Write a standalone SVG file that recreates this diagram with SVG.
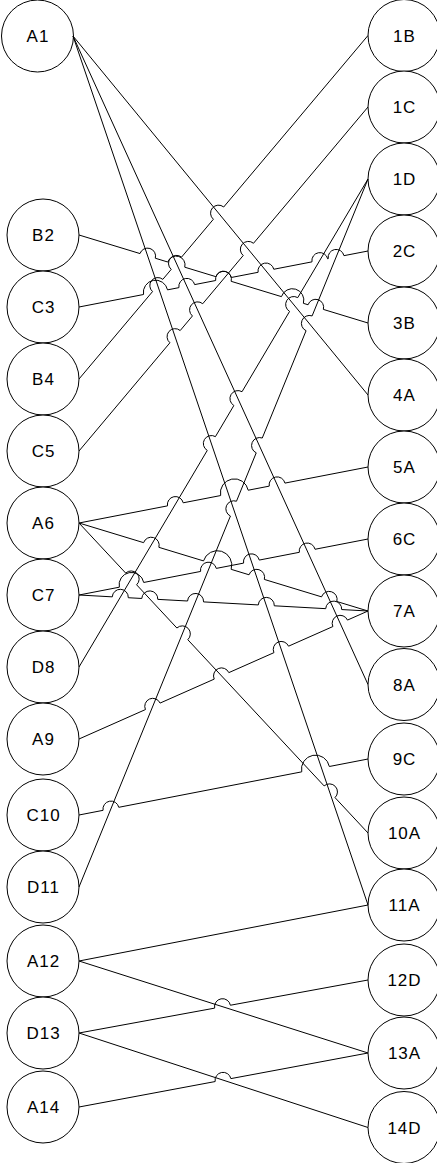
<svg xmlns="http://www.w3.org/2000/svg" width="437" height="1163" viewBox="0 0 437 1163">
<style>
.n circle{fill:#fff;stroke:#000;stroke-width:1}
.n text{font-family:"Liberation Sans",Arial,sans-serif;font-size:17px;fill:#000;text-anchor:middle;letter-spacing:1px}
.e path{fill:none;stroke:#000;stroke-width:1}
</style>
<rect width="437" height="1163" fill="#fff"/>
<g class="n">
<g id="A1"><circle cx="37.5" cy="36" r="36"/><text x="38" y="42">A1</text></g>
<g id="B2"><circle cx="43" cy="235" r="36"/><text x="43.5" y="241">B2</text></g>
<g id="C3"><circle cx="43" cy="307" r="36"/><text x="43.5" y="313">C3</text></g>
<g id="B4"><circle cx="43" cy="379" r="36"/><text x="43.5" y="385">B4</text></g>
<g id="C5"><circle cx="43" cy="451" r="36"/><text x="43.5" y="457">C5</text></g>
<g id="A6"><circle cx="43" cy="523" r="36"/><text x="43.5" y="529">A6</text></g>
<g id="C7"><circle cx="43" cy="595" r="36"/><text x="43.5" y="601">C7</text></g>
<g id="D8"><circle cx="43" cy="667" r="36"/><text x="43.5" y="673">D8</text></g>
<g id="A9"><circle cx="43" cy="739" r="36"/><text x="43.5" y="745">A9</text></g>
<g id="C10"><circle cx="43" cy="815" r="36"/><text x="43.5" y="821">C10</text></g>
<g id="D11"><circle cx="43" cy="887" r="36"/><text x="43.5" y="893">D11</text></g>
<g id="A12"><circle cx="43" cy="961" r="36"/><text x="43.5" y="967">A12</text></g>
<g id="D13"><circle cx="43" cy="1033" r="36"/><text x="43.5" y="1039">D13</text></g>
<g id="A14"><circle cx="43" cy="1107" r="36"/><text x="43.5" y="1113">A14</text></g>
<g id="n1B"><circle cx="404" cy="35.5" r="36"/><text x="404.5" y="41.5">1B</text></g>
<g id="n1C"><circle cx="404" cy="107" r="36"/><text x="404.5" y="113">1C</text></g>
<g id="n1D"><circle cx="404" cy="179" r="36"/><text x="404.5" y="185">1D</text></g>
<g id="n2C"><circle cx="404" cy="251" r="36"/><text x="404.5" y="257">2C</text></g>
<g id="n3B"><circle cx="404" cy="323" r="36"/><text x="404.5" y="329">3B</text></g>
<g id="n4A"><circle cx="404" cy="395" r="36"/><text x="404.5" y="401">4A</text></g>
<g id="n5A"><circle cx="404" cy="467" r="36"/><text x="404.5" y="473">5A</text></g>
<g id="n6C"><circle cx="404" cy="539" r="36"/><text x="404.5" y="545">6C</text></g>
<g id="n7A"><circle cx="404" cy="611" r="36"/><text x="404.5" y="617">7A</text></g>
<g id="n8A"><circle cx="404" cy="684.5" r="36"/><text x="404.5" y="690.5">8A</text></g>
<g id="n9C"><circle cx="404" cy="759" r="36"/><text x="404.5" y="765">9C</text></g>
<g id="n10A"><circle cx="404" cy="833" r="36"/><text x="404.5" y="839">10A</text></g>
<g id="n11A"><circle cx="404" cy="905" r="36"/><text x="404.5" y="911">11A</text></g>
<g id="n12D"><circle cx="404" cy="980" r="36"/><text x="404.5" y="986">12D</text></g>
<g id="n13A"><circle cx="404" cy="1053" r="36"/><text x="404.5" y="1059">13A</text></g>
<g id="n14D"><circle cx="404" cy="1127.5" r="36"/><text x="404.5" y="1133.5">14D</text></g>
</g>
<g class="e" id="connectors">
<path d="M73,36 L368,395"/>
<path d="M73,36 L368,684.5"/>
<path d="M73,36 L368,905"/>
<path d="M79,667 L207.26,450.43 A8,8 0 0 1 215.42,436.65 L233.87,405.49 A8,8 0 0 1 242.03,391.71 L289.58,311.42 A8,8 0 0 1 297.74,297.64 L368,179"/>
<path d="M79,887 L230.43,516.02 A8,8 0 0 1 236.47,501.23 L256.23,452.82 A8,8 0 0 1 262.27,438.02 L306.07,330.72 A8,8 0 0 1 312.11,315.92 L368,179"/>
<path d="M79,379 L152.54,291.59 A8,8 0 0 1 162.84,279.35 L171.23,269.38 A8,8 0 0 1 181.53,257.14 L213.4,219.26 A8,8 0 0 1 223.7,207.01 L368,35.5"/>
<path d="M79,451 L169.91,342.78 A8,8 0 0 1 180.21,330.52 L192.43,315.98 A8,8 0 0 1 202.73,303.72 L243.21,255.53 A8,8 0 0 1 253.51,243.27 L368,107"/>
<path d="M79,235 L140,253.57 A8,8 0 0 1 155.3,258.23 L167.8,262.04 A8.87,8.87 0 0 1 184.76,267.2 L215.85,276.67 A8,8 0 0 1 231.15,281.32 L281.44,296.64 A11.48,11.48 0 0 1 303.4,303.33 L308.07,304.75 A8,8 0 0 1 323.37,309.41 L368,323"/>
<path d="M79,307 L143.53,294.5 A12.23,12.23 0 0 1 167.54,289.85 L178.93,287.64 A8,8 0 0 1 194.63,284.6 L215.65,280.52 A8,8 0 0 1 231.35,277.48 L258.08,272.3 A8,8 0 0 1 273.78,269.26 L311.98,261.86 A8,8 0 0 1 327.68,258.82 L328.24,258.71 A8,8 0 0 1 343.94,255.66 L368,251"/>
<path d="M79,523 L167.49,505.86 A8,8 0 0 1 183.19,502.81 L220.64,495.56 A14.03,14.03 0 0 1 248.19,490.22 L269.23,486.14 A8,8 0 0 1 284.93,483.1 L368,467"/>
<path d="M79,523 L125.7,573.09 A8,8 0 0 1 136.61,584.8 L176.89,628 A8,8 0 0 1 187.8,639.71 L324.11,785.92 A8,8 0 0 1 335.02,797.62 L368,833"/>
<path d="M79,595 L119.32,587.19 A12.42,12.42 0 0 1 143.71,582.46 L200.58,571.44 A8,8 0 0 1 216.28,568.4 L243.57,563.11 A8,8 0 0 1 259.27,560.07 L299.33,552.31 A8,8 0 0 1 315.03,549.27 L368,539"/>
<path d="M79,523 L143.6,542.67 A8,8 0 0 1 158.9,547.33 L203.51,560.91 A14.45,14.45 0 0 1 231.16,569.33 L249.04,574.77 A8,8 0 0 1 264.34,579.43 L321.54,596.85 A8,8 0 0 1 336.84,601.51 L368,611"/>
<path d="M79,595 L112.29,596.85 A8,8 0 0 1 128.27,597.73 L141.79,598.48 A8,8 0 0 1 157.77,599.36 L187.57,601.01 A8,8 0 0 1 203.55,601.9 L258.3,604.93 A8,8 0 0 1 274.28,605.81 L325.71,608.66 A8,8 0 0 1 341.69,609.55 L368,611"/>
<path d="M79,739 L145.44,709.57 A8,8 0 0 1 160.07,703.09 L214.21,679.11 A8,8 0 0 1 228.84,672.63 L273.93,652.66 A8,8 0 0 1 288.56,646.18 L332.86,626.56 A8,8 0 0 1 347.49,620.08 L368,611"/>
<path d="M79,815 L103.06,810.34 A8,8 0 0 1 118.76,807.3 L301.72,771.85 A14.07,14.07 0 0 1 329.35,766.49 L368,759"/>
<path d="M79,961 L368,905"/>
<path d="M79,961 L368,1053"/>
<path d="M79,1033 L214.64,1008.13 A8,8 0 0 1 230.38,1005.24 L368,980"/>
<path d="M79,1033 L368,1127.5"/>
<path d="M79,1107 L215.15,1081.56 A8,8 0 0 1 230.87,1078.62 L368,1053"/>
</g>
</svg>
